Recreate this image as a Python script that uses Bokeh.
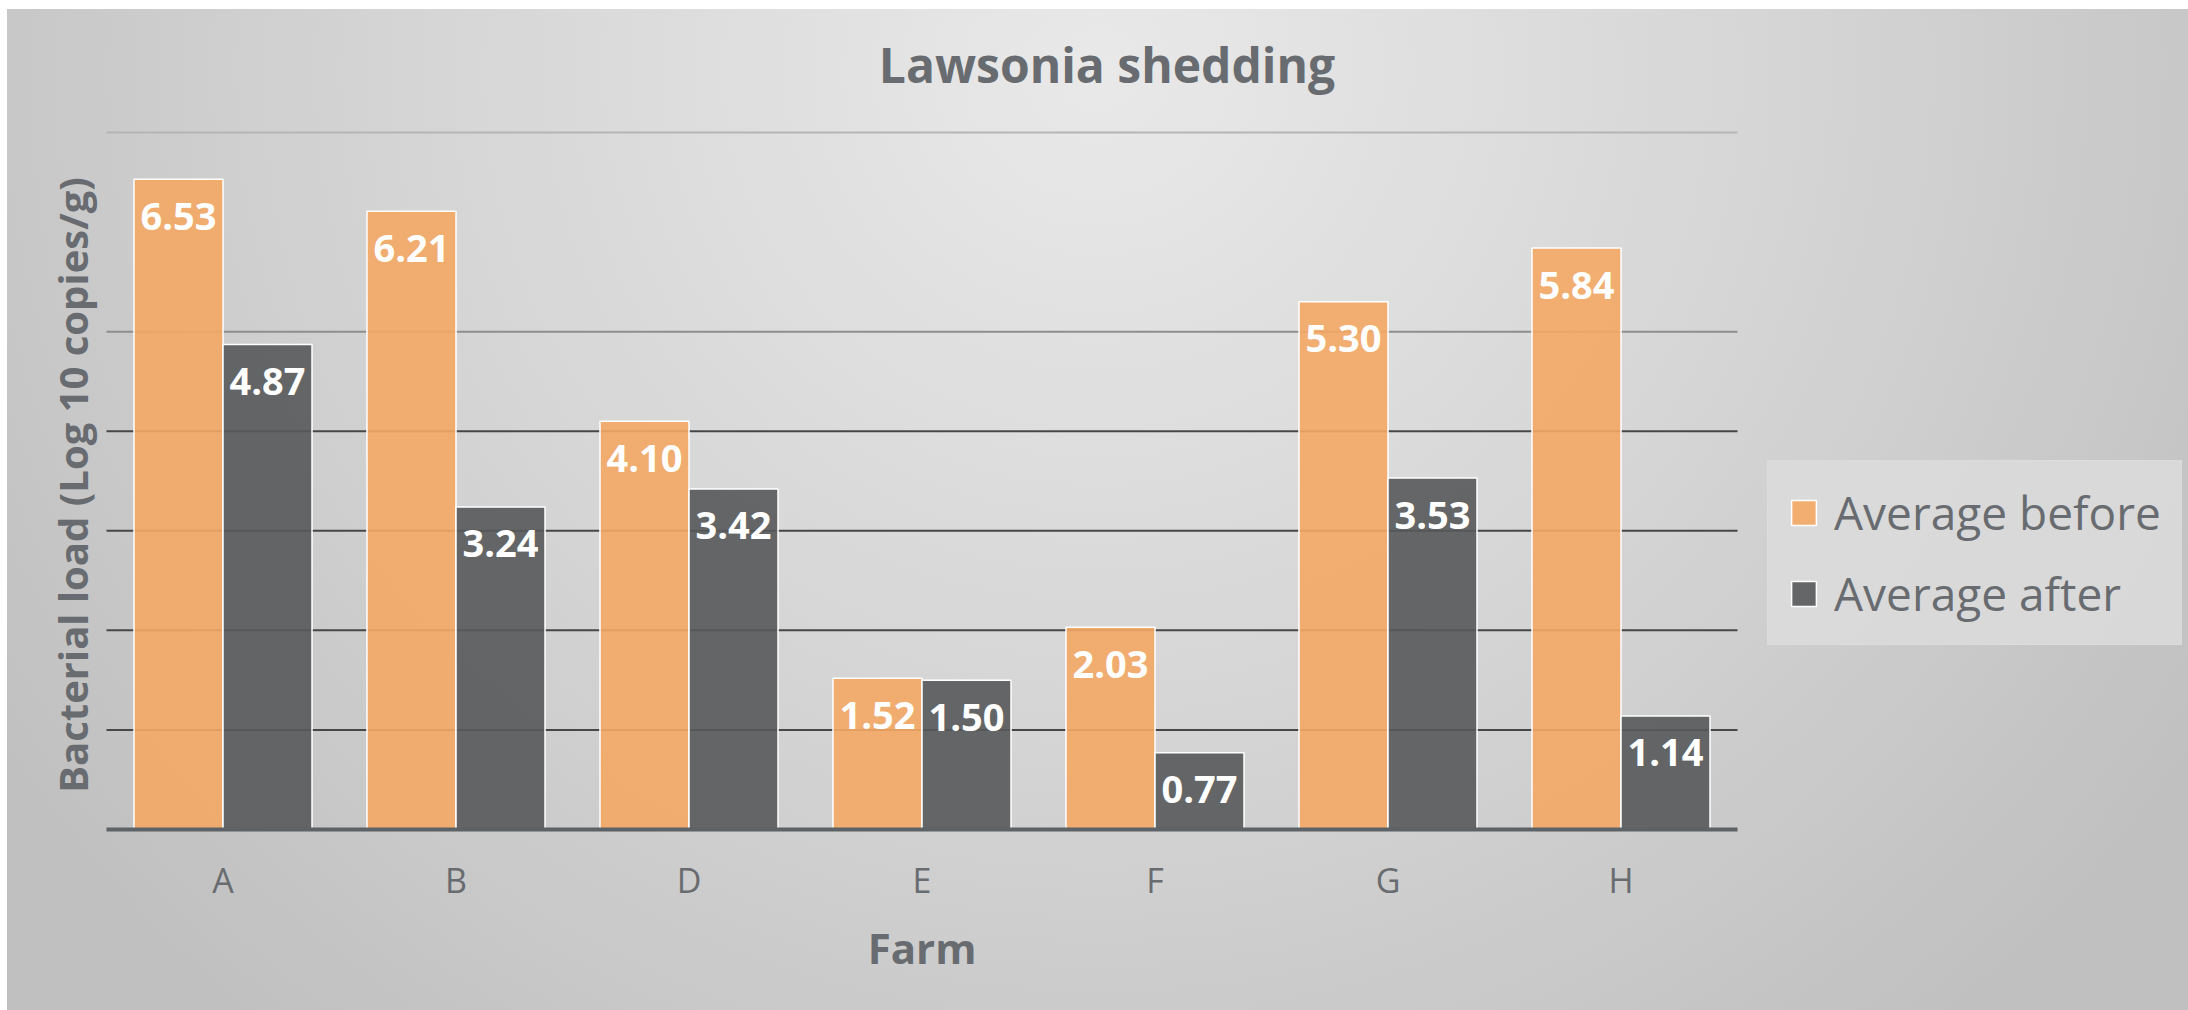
import math
from bokeh.plotting import figure
from bokeh.models import (Range1d, Legend, LegendItem, FixedTicker, Label,
                          ColumnDataSource)
from bokeh.core.properties import value
from bokeh.embed import file_html
from bokeh.resources import INLINE

# ---- data ----
farms = ["A", "B", "D", "E", "F", "G", "H"]
before = [6.53, 6.21, 4.10, 1.52, 2.03, 5.30, 5.84]
after = [4.87, 3.24, 3.42, 1.50, 0.77, 3.53, 1.14]
series_names = ["Average before", "Average after"]
title_text = "Lawsonia shedding"
x_title = "Farm"
y_title = "Bacterial load (Log 10 copies/g)"
grid_values = [1, 2, 3, 4, 5, 7]
grid_colors = ["#474747", "#474747", "#474747", "#474747", "#8e8e8e", "#b5b5b5"]

GRAY = "#686c70"
FONT = "Open Sans"
W = 0.382  # bar width (category units)

n = len(farms)
ymax = 7
centers = [i + 0.5 for i in range(n)]
src = ColumnDataSource(dict(
    farm=farms, before=before, after=after,
    xb=[c - W / 2 for c in centers], xa=[c + W / 2 for c in centers],
    before_lbl=[f"{v:.2f}" for v in before],
    after_lbl=[f"{v:.2f}" for v in after],
))
gsrc = ColumnDataSource(dict(y=grid_values, color=grid_colors,
                             x0=[0] * len(grid_values), x1=[n] * len(grid_values)))

# frame covers the whole figure; axis drawn at y=0 inside it
p = figure(x_range=Range1d(-0.4249, 8.9356), y_range=Range1d(-1.8178, 8.2354),
           title=None, width=2181, height=1001, output_backend="svg",
           toolbar_location=None, min_border_left=0, min_border_right=0,
           min_border_top=0, min_border_bottom=0)

p.styles = {"background-image":
            "radial-gradient(ellipse 60% 125% at 50% 6%, #e9e9e9 0%, #d4d4d4 55%, #c0c0c0 100%)",
            "margin-left": "7px", "margin-top": "9px"}
p.border_fill_color = None
p.background_fill_color = None
p.outline_line_color = None

# grid lines (only across the category span)
p.xgrid.visible = False
p.ygrid.visible = False
p.segment(x0="x0", x1="x1", y0="y", y1="y", source=gsrc, line_color="color",
          line_width=2)

# bars
r1 = p.vbar(x="xb", top="before", width=W, bottom=0, source=src,
            fill_color="#F3A964", fill_alpha=0.9, line_color="white", line_width=1.5)
r2 = p.vbar(x="xa", top="after", width=W, bottom=0, source=src,
            fill_color="#56595A", fill_alpha=0.9, line_color="white", line_width=1.5)

# data labels
for xcol, col, lbl in (("xb", "before", "before_lbl"), ("xa", "after", "after_lbl")):
    p.text(x=xcol, y=col, text=lbl, source=src,
           text_align="center", text_baseline="middle", y_offset=37,
           text_color="white", text_font=value(FONT), text_font_style="bold",
           text_font_size="38px")

# x axis, fixed at y = 0
xa = p.xaxis[0]
xa.fixed_location = 0
xa.ticker = FixedTicker(ticks=centers)
xa.major_label_overrides = {c: f for c, f in zip(centers, farms)}
xa.bounds = (0, n)
xa.axis_line_color = "#5d6266"
xa.axis_line_width = 4
xa.major_tick_line_color = None
xa.minor_tick_line_color = None
xa.major_label_text_font = FONT
xa.major_label_text_font_size = "34px"
xa.major_label_text_color = GRAY
xa.major_label_standoff = 21

p.yaxis.visible = False

# texts: title, axis titles
p.add_layout(Label(x=n / 2, y=ymax, x_offset=185, y_offset=68,
                   text=title_text, text_align="center", text_baseline="middle",
                   text_font=FONT, text_font_style="bold", text_font_size="48px",
                   text_color=GRAY))
p.add_layout(Label(x=n / 2, y=0, y_offset=-118,
                   text=x_title, text_align="center", text_baseline="middle",
                   text_font=FONT, text_font_style="bold", text_font_size="42px",
                   text_color=GRAY))
p.add_layout(Label(x=0, y=ymax / 2, x_offset=-34, y_offset=-4, angle=math.pi / 2,
                   text=y_title, text_align="center", text_baseline="middle",
                   text_font=FONT, text_font_style="bold", text_font_size="40px",
                   text_color=GRAY))

# legend
legend = Legend(items=[LegendItem(label=series_names[0], renderers=[r1]),
                       LegendItem(label=series_names[1], renderers=[r2])],
                location=(1760, 365), orientation="vertical",
                padding=20, spacing=19, margin=0,
                glyph_width=31, glyph_height=31, label_standoff=15,
                label_height=54,
                label_text_font=FONT, label_text_font_size="46px",
                label_text_color=GRAY,
                background_fill_color="#dcdcdc", background_fill_alpha=0.85,
                border_line_color="#dcdcdc", border_line_alpha=0.85,
                border_line_width=1)
p.add_layout(legend)

open("out.html", "w").write(file_html(p, INLINE))
